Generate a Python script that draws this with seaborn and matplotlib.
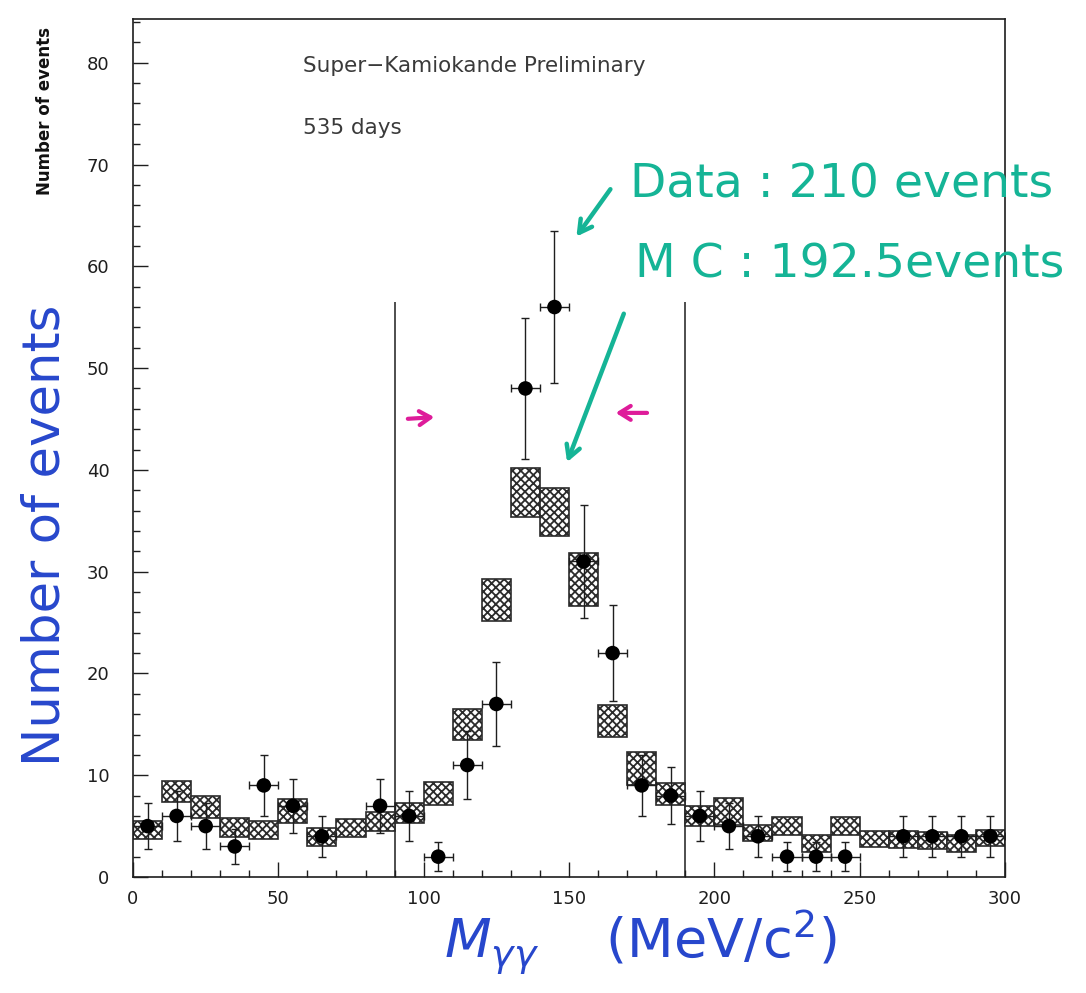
import numpy as np
import matplotlib
matplotlib.use("Agg")
import matplotlib.pyplot as plt
from matplotlib.ticker import MultipleLocator
import seaborn as sns

# ---- values -------------------------------------------------------------
mass_bins = [5, 15, 25, 35, 45, 55, 65, 75, 85, 95,
             105, 115, 125, 135, 145, 155, 165, 175, 185, 195,
             205, 215, 225, 235, 245, 255, 265, 275, 285, 295]
data_counts = [5, 6, 5, 3, 9, 7, 4, 0, 7, 6,
               2, 11, 17, 48, 56, 31, 22, 9, 8, 6,
               5, 4, 2, 2, 2, 0, 4, 4, 4, 4]
mc_center = [4.6, 8.4, 6.9, 4.85, 4.6, 6.5, 3.9, 4.8, 5.45, 6.3,
             8.2, 15.0, 27.2, 37.8, 35.9, 29.2, 15.35, 10.65, 8.15, 6.0,
             6.45, 4.3, 5.0, 3.3, 5.0, 3.7, 3.7, 3.6, 3.3, 3.8]
mc_error = [0.9, 1.0, 1.1, 0.95, 0.9, 1.2, 0.9, 0.9, 0.9, 0.95,
            1.1, 1.5, 2.05, 2.4, 2.35, 2.6, 1.55, 1.65, 1.05, 1.0,
            1.35, 0.8, 0.9, 0.8, 0.9, 0.8, 0.85, 0.8, 0.8, 0.8]
bin_width = 10
cut_window = [90, 190]
cut_height = 56.5
x_ticks = [0, 50, 100, 150, 200, 250, 300]
y_ticks = [0, 10, 20, 30, 40, 50, 60, 70, 80]

# ---- style ---------------------------------------------------------------
sns.set_style("ticks")
plt.rcParams["font.family"] = ["DejaVu Sans"]
plt.rcParams["hatch.linewidth"] = 1.3

W_PX, H_PX = 1086, 993
fig = plt.figure(figsize=(W_PX / 100, H_PX / 100), dpi=100)
fig.patch.set_facecolor("white")


def fx(px):
    return px / W_PX


def fy(py):
    return 1 - py / H_PX


ax = fig.add_axes([fx(133), fy(877), fx(1005) - fx(133), fy(19) - fy(877)])
ax.set_facecolor("white")

x = np.array(mass_bins, dtype=float)
n = np.array(data_counts, dtype=float)
mc_c = np.array(mc_center)
mc_e = np.array(mc_error)

# Monte Carlo expectation: hatched boxes spanning the bin and +-1 sigma
ax.bar(x, 2 * mc_e, bottom=mc_c - mc_e, width=bin_width, align="center",
       facecolor="white", edgecolor="#2b2b2b", hatch="xxxx",
       linewidth=1.2, zorder=2)

# Data: counts with Poisson errors and bin-width horizontal bars
has = n > 0
ax.errorbar(x[has], n[has], yerr=np.sqrt(n[has]), xerr=bin_width / 2,
            fmt="none", ecolor="#1e1e1e", elinewidth=1.0, capsize=3.2,
            capthick=1.0, zorder=3)
sns.scatterplot(x=x[has], y=n[has], ax=ax, color="black", s=110,
                edgecolor="none", zorder=4, legend=False)

# invariant-mass cut window
ax.vlines(cut_window, 0, cut_height, color="#1e1e1e", linewidth=1.1, zorder=1)

ax.set_xlim(0, 300)
ax.set_ylim(0, 84.3)
ax.set_xticks(x_ticks)
ax.set_yticks(y_ticks)
ax.xaxis.set_minor_locator(MultipleLocator(10))
ax.yaxis.set_minor_locator(MultipleLocator(2))
ax.tick_params(which="major", direction="in", length=11, width=1.0,
               colors="#1e1e1e", labelsize=13, top=False, right=False)
ax.tick_params(which="minor", direction="in", length=5, width=1.0,
               colors="#1e1e1e", top=False, right=False)
ax.tick_params(axis="y", which="major", pad=17)
ax.tick_params(axis="x", which="major", pad=9)
for s in ax.spines.values():
    s.set_linewidth(1.2)
    s.set_color("#1e1e1e")
ax.set_xlabel("")
ax.set_ylabel("")

# printed labels
fig.text(fx(45), fy(111), "Number of events", rotation=90, ha="center",
         va="center", fontsize=12, fontweight="bold", color="#111111")
fig.text(fx(303), fy(66), "Super\u2212Kamiokande Preliminary", ha="left",
         va="center", fontsize=15.5, color="#3a3a3a")
fig.text(fx(303), fy(128), "535 days", ha="left", va="center",
         fontsize=15.5, color="#3a3a3a")

# handwritten labels
blue = "#2747cc"
fig.text(fx(46), fy(535), "Number of events", rotation=90, ha="center",
         va="center", fontsize=37, color=blue)
fig.text(fx(640), fy(942), r"$M_{\gamma\gamma}$    (MeV/c$^{2}$)",
         ha="center", va="center", fontsize=39, color=blue)

green = "#15b496"
fig.text(fx(630), fy(185), "Data : 210 events", ha="left", va="center",
         fontsize=34, color=green)
fig.text(fx(635), fy(265), "M C : 192.5events", ha="left", va="center",
         fontsize=34, color=green)

arrow_green = dict(arrowstyle="->,head_length=0.9,head_width=0.5",
                   color=green, lw=3.2)
ax.annotate("", xy=(152, 62.7), xytext=(164.8, 67.8),
            arrowprops=arrow_green)
ax.annotate("", xy=(149, 40.5), xytext=(169.2, 55.6),
            arrowprops=arrow_green)

magenta = "#de1c9a"
arrow_mag = dict(arrowstyle="->,head_length=0.8,head_width=0.5",
                 color=magenta, lw=3.0)
ax.annotate("", xy=(104.6, 45.2), xytext=(93.6, 45.0), arrowprops=arrow_mag)
ax.annotate("", xy=(165.1, 45.6), xytext=(177.8, 45.6), arrowprops=arrow_mag)

fig.savefig("out.png", dpi=100, facecolor="white")
